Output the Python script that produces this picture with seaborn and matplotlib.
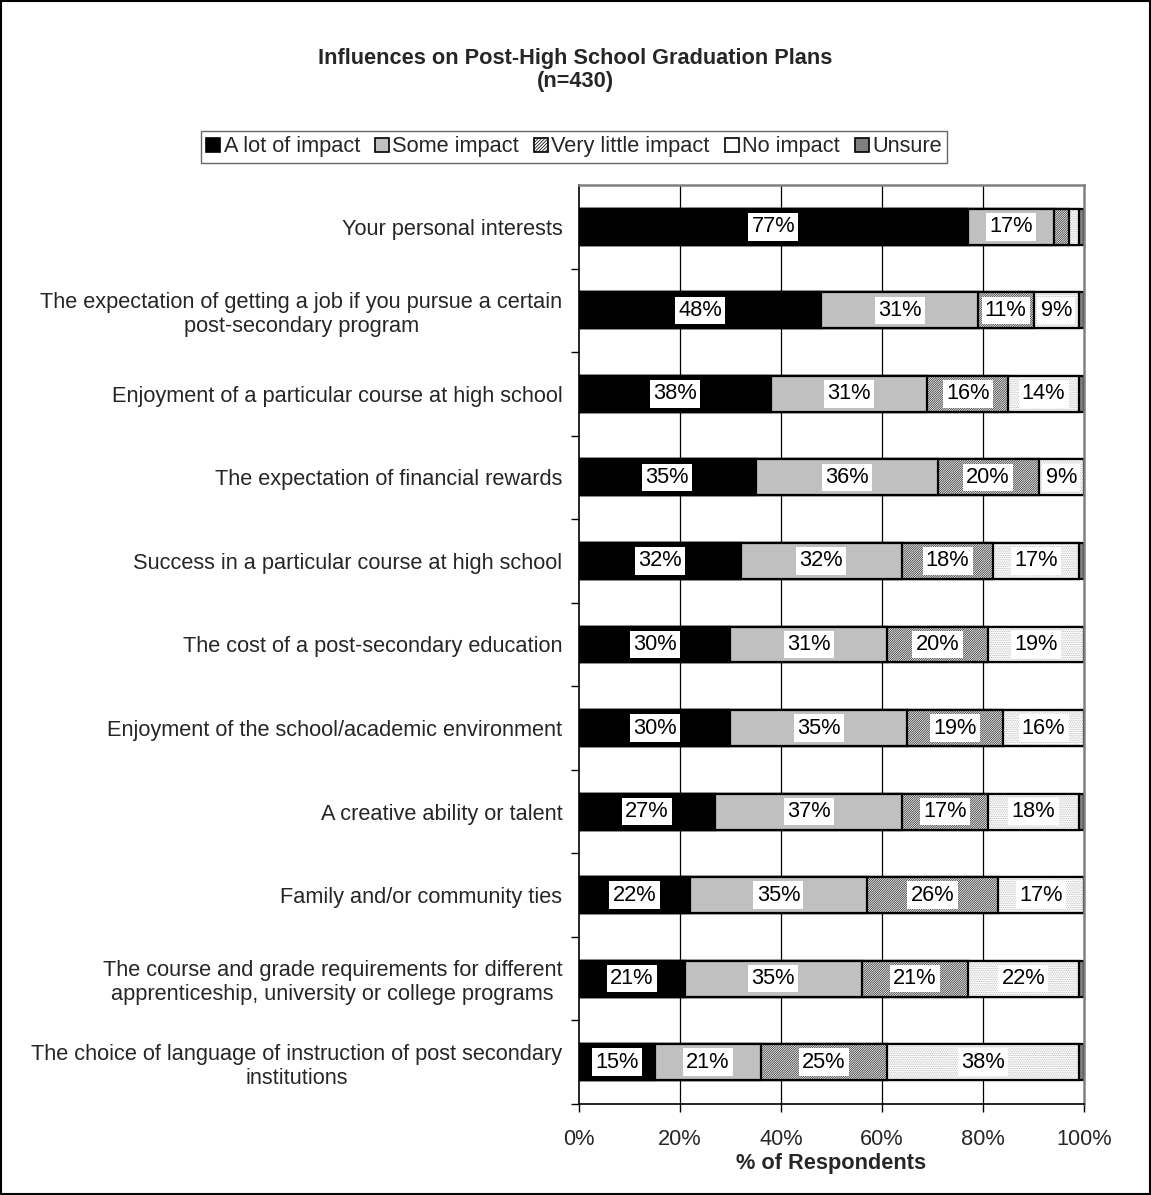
import numpy as np
import pandas as pd
import matplotlib
matplotlib.use("Agg")
import matplotlib.pyplot as plt
from matplotlib.patches import Patch, Rectangle
import seaborn as sns

# Survey items (top to bottom)
categories = [
    "Your personal interests",
    "The expectation of getting a job if you pursue a certain\npost-secondary program",
    "Enjoyment of a particular course at high school",
    "The expectation of financial rewards",
    "Success in a particular course at high school",
    "The cost of a post-secondary education",
    "Enjoyment of the school/academic environment",
    "A creative ability or talent",
    "Family and/or community ties",
    "The course and grade requirements for different\napprenticeship, university or college programs",
    "The choice of language of instruction of post secondary\ninstitutions",
]

# Percent of respondents per response level
a_lot = [77, 48, 38, 35, 32, 30, 30, 27, 22, 21, 15]
some = [17, 31, 31, 36, 32, 31, 35, 37, 35, 35, 21]
very_little = [3, 11, 16, 20, 18, 20, 19, 17, 26, 21, 25]
no_impact = [2, 9, 14, 9, 17, 19, 16, 18, 17, 22, 38]
unsure = [1, 1, 1, 0, 1, 0, 0, 1, 0, 1, 1]

series_names = ["A lot of impact", "Some impact", "Very little impact", "No impact", "Unsure"]
series_values = [a_lot, some, very_little, no_impact, unsure]

x_ticks = [0, 20, 40, 60, 80, 100]
x_tick_labels = ["0%", "20%", "40%", "60%", "80%", "100%"]

# Fill style of each level: (facecolor, hatch, hatch colour)
styles = [
    ("#000000", None, "#000000"),
    ("#c0c0c0", None, "#c0c0c0"),
    ("#ffffff", "/" * 15, "#303030"),
    ("#ffffff", "." * 9, "#b8b8b8"),
    ("#808080", None, "#808080"),
]

sns.set_theme(style="white")
plt.rcParams["font.family"] = ["Liberation Sans", "DejaVu Sans"]
plt.rcParams["hatch.linewidth"] = 0.55
FS = 15.7

fig = plt.figure(figsize=(11.51, 11.95), dpi=100)
ax = fig.add_axes([0.503, 0.0762, 0.4388, 0.769])

vals = np.array(series_values, dtype=float)
cum = np.cumsum(vals, axis=0)

ax.set_axisbelow(True)
for x in x_ticks[1:-1]:
    ax.axvline(x, color="black", lw=0.9, zorder=0)

# Stacked bars: draw cumulative totals from the outermost level inward
for k in range(len(series_names) - 1, -1, -1):
    df = pd.DataFrame({"item": categories, "value": cum[k]})
    face, hatch, hcol = styles[k]
    sns.barplot(data=df, x="value", y="item", orient="h", color=face,
                saturation=1, width=0.43, errorbar=None, ax=ax,
                edgecolor=hcol, linewidth=0, hatch=hatch, zorder=2)
    sns.barplot(data=df, x="value", y="item", orient="h", color="black",
                saturation=1, width=0.43, errorbar=None, ax=ax,
                facecolor="none", edgecolor="black", linewidth=1.6, zorder=2)

# Value labels in white boxes
for k in range(len(series_names)):
    for i in range(len(categories)):
        v = vals[k, i]
        if v >= 5:
            xc = cum[k, i] - v / 2
            ax.text(xc, i, f"{int(v)}%", ha="center", va="center", fontsize=FS,
                    color="black", zorder=5,
                    bbox=dict(facecolor="white", edgecolor="none", pad=2.4))

ax.set_xlim(0, 100)
ax.set_xticks(x_ticks)
ax.set_xticklabels(x_tick_labels, fontsize=FS)
ax.set_xlabel("")
ax.set_ylabel("")
ax.tick_params(axis="x", direction="out", length=6, width=1, color="black",
               pad=12, bottom=True)
ax.tick_params(axis="y", which="major", length=0, pad=12, labelsize=FS)
for lab in ax.get_yticklabels():
    lab.set_multialignment("center")
ax.set_yticks(np.arange(0.5, len(categories), 1.0), minor=True)
ax.tick_params(axis="y", which="minor", direction="out", length=6, width=1,
               color="black", left=True)

for side in ["left", "bottom"]:
    ax.spines[side].set_color("black")
    ax.spines[side].set_linewidth(1.2)
for side in ["top", "right"]:
    ax.spines[side].set_color("#808080")
    ax.spines[side].set_linewidth(1.8)
    ax.spines[side].set_visible(True)

# Titles
fig.text(0.4996, 0.9415, "Influences on Post-High School Graduation Plans\n(n=430)",
         ha="center", va="center", fontsize=FS, fontweight="bold", linespacing=1.1)
fig.text(0.7224, 0.026, "% of Respondents", ha="center", va="center",
         fontsize=FS, fontweight="bold")

# Legend
handles = []
for k, name in enumerate(series_names):
    face, hatch, hcol = styles[k]
    if k == 3:
        hatch = None
    if k == 2:
        hatch = "/" * 10
    handles.append(Patch(facecolor=face, edgecolor="black", hatch=hatch,
                         linewidth=1.2, label=name))
leg = fig.legend(handles=handles, loc="center", bbox_to_anchor=(0.4987, 0.877),
                 ncol=5, fontsize=FS, frameon=True, fancybox=False,
                 handlelength=0.65, handleheight=0.65, handletextpad=0.15,
                 columnspacing=0.68, borderpad=0.25, borderaxespad=0)
leg.get_frame().set_edgecolor("#404040")
leg.get_frame().set_linewidth(1.0)

# Figure border
fig.patches.append(Rectangle((0.001, 0.001), 0.998, 0.998, transform=fig.transFigure,
                             fill=False, edgecolor="black", linewidth=1.5))

fig.savefig("out.png", dpi=100)
